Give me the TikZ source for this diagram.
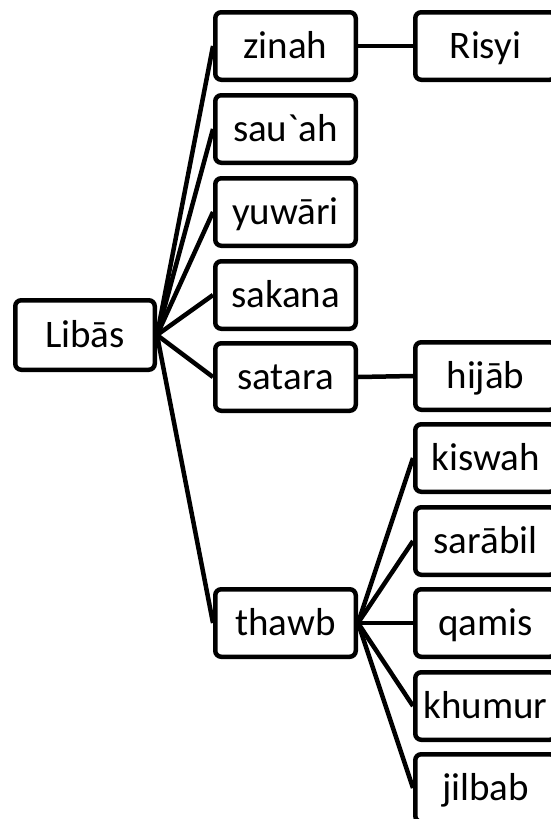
\documentclass[tikz,border=0pt]{standalone}
\usepackage{fontspec}
\setmainfont{Carlito}
% a family without TeX input ligatures, so that ` prints as a grave accent
\newfontfamily\boxfont{Carlito}
\begin{document}
\begin{tikzpicture}[x=1pt,y=-1pt,
  term/.style={draw=black, line width=4.5pt, rounded corners=6pt, fill=white,
    minimum width=140.5pt, minimum height=67.5pt, inner sep=0pt,
    text height=29pt, text depth=5pt,
    font=\boxfont\fontsize{39}{47}\selectfont},
  link/.style={draw=black, line width=4.5pt}]
\useasboundingbox (0,0) rectangle (551,819);

% root
\node[term, minimum width=139.5pt, minimum height=69.5pt] (libas) at (85,335) {Libās};

% second level
\node[term] (zinah)  at (285.5,46)  {zinah};
\node[term] (sauah)  at (285.5,129) {sau`ah};
\node[term] (yuwari) at (285.5,212) {yuwāri};
\node[term] (sakana) at (285.5,295) {sakana};
\node[term] (satara) at (285.5,377) {satara};
\node[term] (thawb)  at (285.5,623) {thawb};

% third level
\node[term] (risyi)   at (485.5,46)  {Risyi};
\node[term] (hijab)   at (485.5,376) {hijāb};
\node[term] (kiswah)  at (485.5,458) {kiswah};
\node[term] (sarabil) at (485.5,541) {sarābil};
\node[term] (qamis)   at (485.5,623) {qamis};
\node[term] (khumur)  at (485.5,706) {khumur};
\node[term] (jilbab)  at (485.5,788) {jilbab};

% connectors
\foreach \n in {zinah,sauah,yuwari,sakana,satara,thawb}
  \draw[link] (libas.east) -- (\n.west);
\draw[link] (zinah.east) -- (risyi.west);
\draw[link] (satara.east) -- (hijab.west);
\foreach \n in {kiswah,sarabil,qamis,khumur,jilbab}
  \draw[link] (thawb.east) -- (\n.west);
\end{tikzpicture}
\end{document}
